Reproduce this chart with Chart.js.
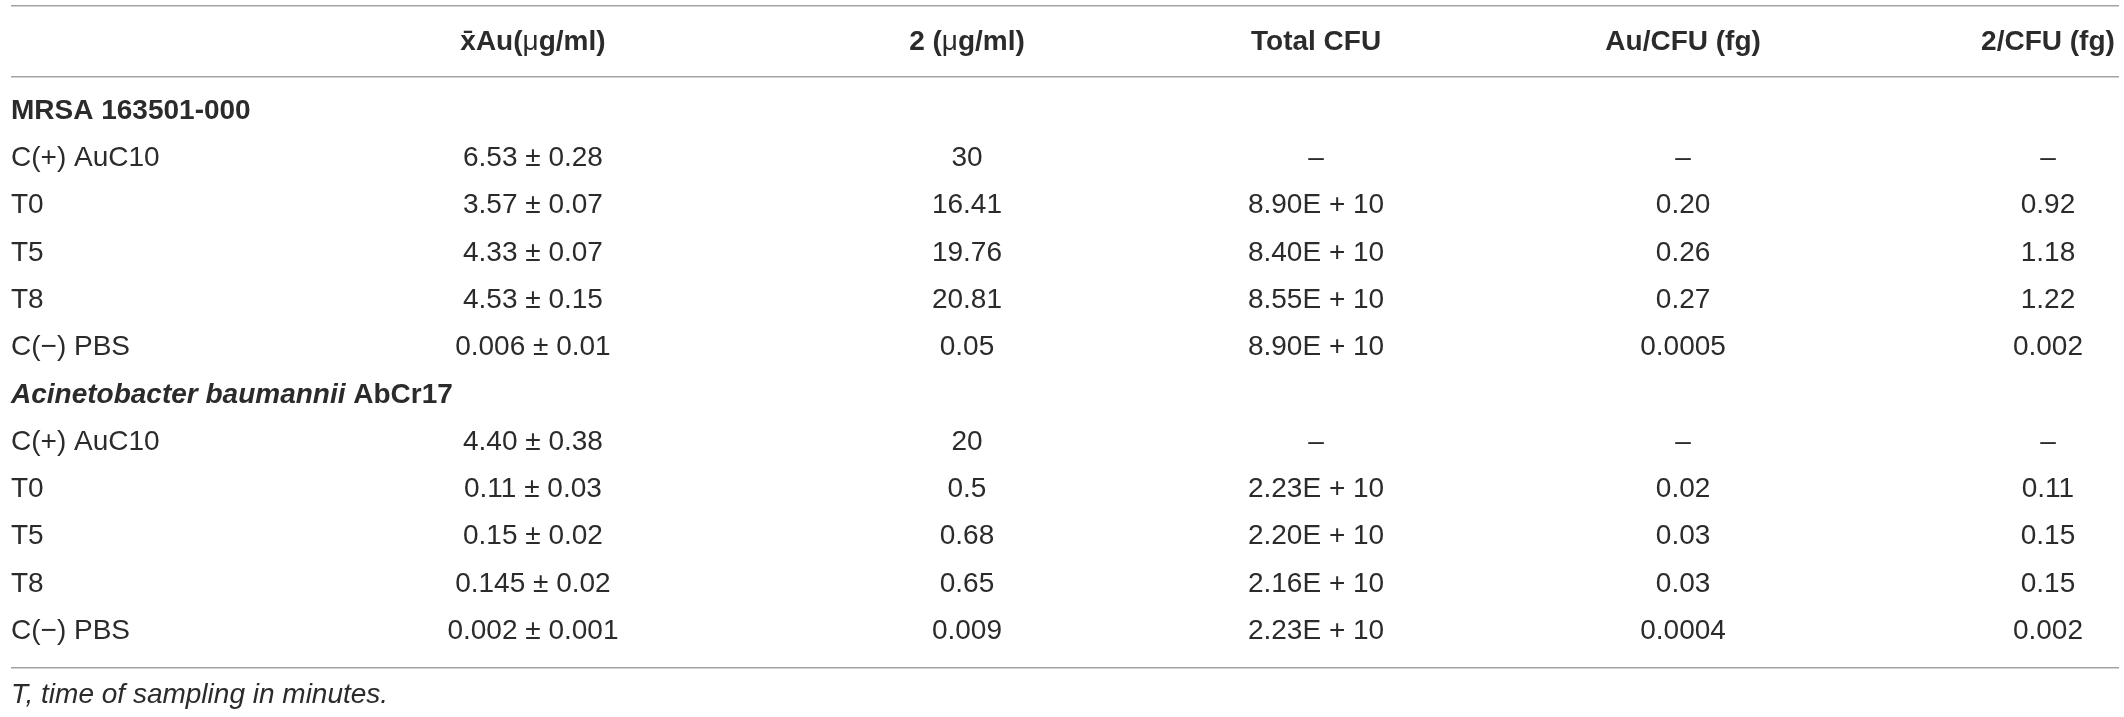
<!DOCTYPE html>
<html>
<head>
<meta charset="utf-8">
<script src="https://cdn.jsdelivr.net/npm/chart.js@4.4.1/dist/chart.umd.min.js"></script>
<style>
  html, body { margin: 0; padding: 0; background: #fff; }
  #wrap { width: 2124px; height: 717px; position: relative; }
</style>
</head>
<body>
<div id="wrap"><canvas id="table-chart"></canvas></div>
<script>
// table content
const columns = ['x\u0304Au(\u03bcg/ml)', '2 (\u03bcg/ml)', 'Total CFU', 'Au/CFU (fg)', '2/CFU (fg)']
const groups = ['MRSA 163501-000', 'Acinetobacter baumannii AbCr17']
const samples = ['C(+) AuC10', 'T0', 'T5', 'T8', 'C(\u2212) PBS']

const mrsaAu = ['6.53 \u00b1 0.28', '3.57 \u00b1 0.07', '4.33 \u00b1 0.07', '4.53 \u00b1 0.15', '0.006 \u00b1 0.01']
const mrsaTwo = ['30', '16.41', '19.76', '20.81', '0.05']
const mrsaCfu = ['\u2013', '8.90E + 10', '8.40E + 10', '8.55E + 10', '8.90E + 10']
const mrsaAuPerCfu = ['\u2013', '0.20', '0.26', '0.27', '0.0005']
const mrsaTwoPerCfu = ['\u2013', '0.92', '1.18', '1.22', '0.002']

const abAu = ['4.40 \u00b1 0.38', '0.11 \u00b1 0.03', '0.15 \u00b1 0.02', '0.145 \u00b1 0.02', '0.002 \u00b1 0.001']
const abTwo = ['20', '0.5', '0.68', '0.65', '0.009']
const abCfu = ['\u2013', '2.23E + 10', '2.20E + 10', '2.16E + 10', '2.23E + 10']
const abAuPerCfu = ['\u2013', '0.02', '0.03', '0.03', '0.0004']
const abTwoPerCfu = ['\u2013', '0.11', '0.15', '0.15', '0.002']

const footnote = 'T, time of sampling in minutes.'

// layout (scale units: x in % of table width, y in rows)
const colX = [24.76, 45.35, 61.91, 79.32, 96.63]
const headerRow = -1.459
const footRow = 12.347
const rules = [-2.2305, -0.7188, 11.776]

const FONT = '"Liberation Sans", Arial, Helvetica, sans-serif'
const TEXT = '#2b2b2b'

// rows: group title then its five samples
const seriesByGroup = [
  [mrsaAu, mrsaTwo, mrsaCfu, mrsaAuPerCfu, mrsaTwoPerCfu],
  [abAu, abTwo, abCfu, abAuPerCfu, abTwoPerCfu]
]
const labelPoints = []
const labelTexts = []
const colPoints = columns.map(() => [])
const colTexts = columns.map(() => [])
let row = 0
groups.forEach((g, gi) => {
  labelPoints.push({ x: 0, y: row })
  labelTexts.push({ group: gi, text: g })
  row++
  samples.forEach((s, si) => {
    labelPoints.push({ x: 0, y: row })
    labelTexts.push({ text: s })
    seriesByGroup[gi].forEach((vals, c) => {
      colPoints[c].push({ x: colX[c], y: row })
      colTexts[c].push(vals[si])
    })
    row++
  })
})

const datasets = [
  { data: labelPoints, texts: labelTexts, align: 'left', pointRadius: 0 },
  ...columns.map((name, c) => ({ data: colPoints[c], texts: colTexts[c], align: 'center', pointRadius: 0 })),
  { data: columns.map((name, c) => ({ x: colX[c], y: headerRow })), texts: columns, header: true, align: 'center', pointRadius: 0 },
  { data: [{ x: 0, y: footRow }], texts: [footnote], foot: true, align: 'left', pointRadius: 0 }
]

function drawRuns(ctx, runs, x, y, align) {
  let total = 0
  runs.forEach(r => { ctx.font = r.font; total += ctx.measureText(r.t).width })
  let cx = align === 'center' ? x - total / 2 : x
  ctx.textAlign = 'left'
  runs.forEach(r => {
    ctx.font = r.font
    ctx.fillText(r.t, cx, y)
    cx += ctx.measureText(r.t).width
  })
}

const bold = 'bold 28px ' + FONT
const boldItalic = 'italic bold 28px ' + FONT
const regular = '28px ' + FONT
const italic = 'italic 28px ' + FONT

function runsFor(ds, item) {
  if (ds.header) {
    const parts = item.split('\u03bc')
    if (parts.length === 2) return [{ t: parts[0], font: bold }, { t: '\u03bc', font: regular }, { t: parts[1], font: bold }]
    return [{ t: item, font: bold }]
  }
  if (ds.foot) return [{ t: item, font: italic }]
  if (typeof item === 'object') {
    if (item.group === 1) {
      const cut = item.text.lastIndexOf(' ')
      return [{ t: item.text.slice(0, cut), font: boldItalic }, { t: item.text.slice(cut), font: bold }]
    }
    if (item.group === 0) return [{ t: item.text, font: bold }]
    return [{ t: item.text, font: regular }]
  }
  return [{ t: item, font: regular }]
}

const tableText = {
  id: 'tableText',
  afterDatasetsDraw(chart) {
    const ctx = chart.ctx
    ctx.save()
    ctx.fillStyle = TEXT
    ctx.textBaseline = 'middle'
    chart.data.datasets.forEach((ds, di) => {
      const meta = chart.getDatasetMeta(di)
      meta.data.forEach((el, i) => {
        drawRuns(ctx, runsFor(ds, ds.texts[i]), el.x, el.y, ds.align)
      })
    })
    ctx.restore()
  }
}

new Chart(document.getElementById('table-chart').getContext('2d'), {
  type: 'scatter',
  data: { datasets },
  plugins: [tableText],
  options: {
    responsive: true,
    maintainAspectRatio: false,
    animation: false,
    events: [],
    layout: { padding: { left: 11, right: 5, top: 0, bottom: 0 } },
    scales: {
      x: { type: 'linear', min: 0, max: 100, display: false },
      y: {
        type: 'linear',
        reverse: true,
        min: -2.3467,
        max: 12.812,
        afterBuildTicks: axis => { axis.ticks = rules.map(v => ({ value: v })) },
        ticks: { display: false },
        border: { display: false },
        grid: { color: '#a3a3a3', lineWidth: 1.5, drawTicks: false }
      }
    },
    plugins: {
      legend: { display: false },
      tooltip: { enabled: false }
    }
  }
})
</script>
</body>
</html>
